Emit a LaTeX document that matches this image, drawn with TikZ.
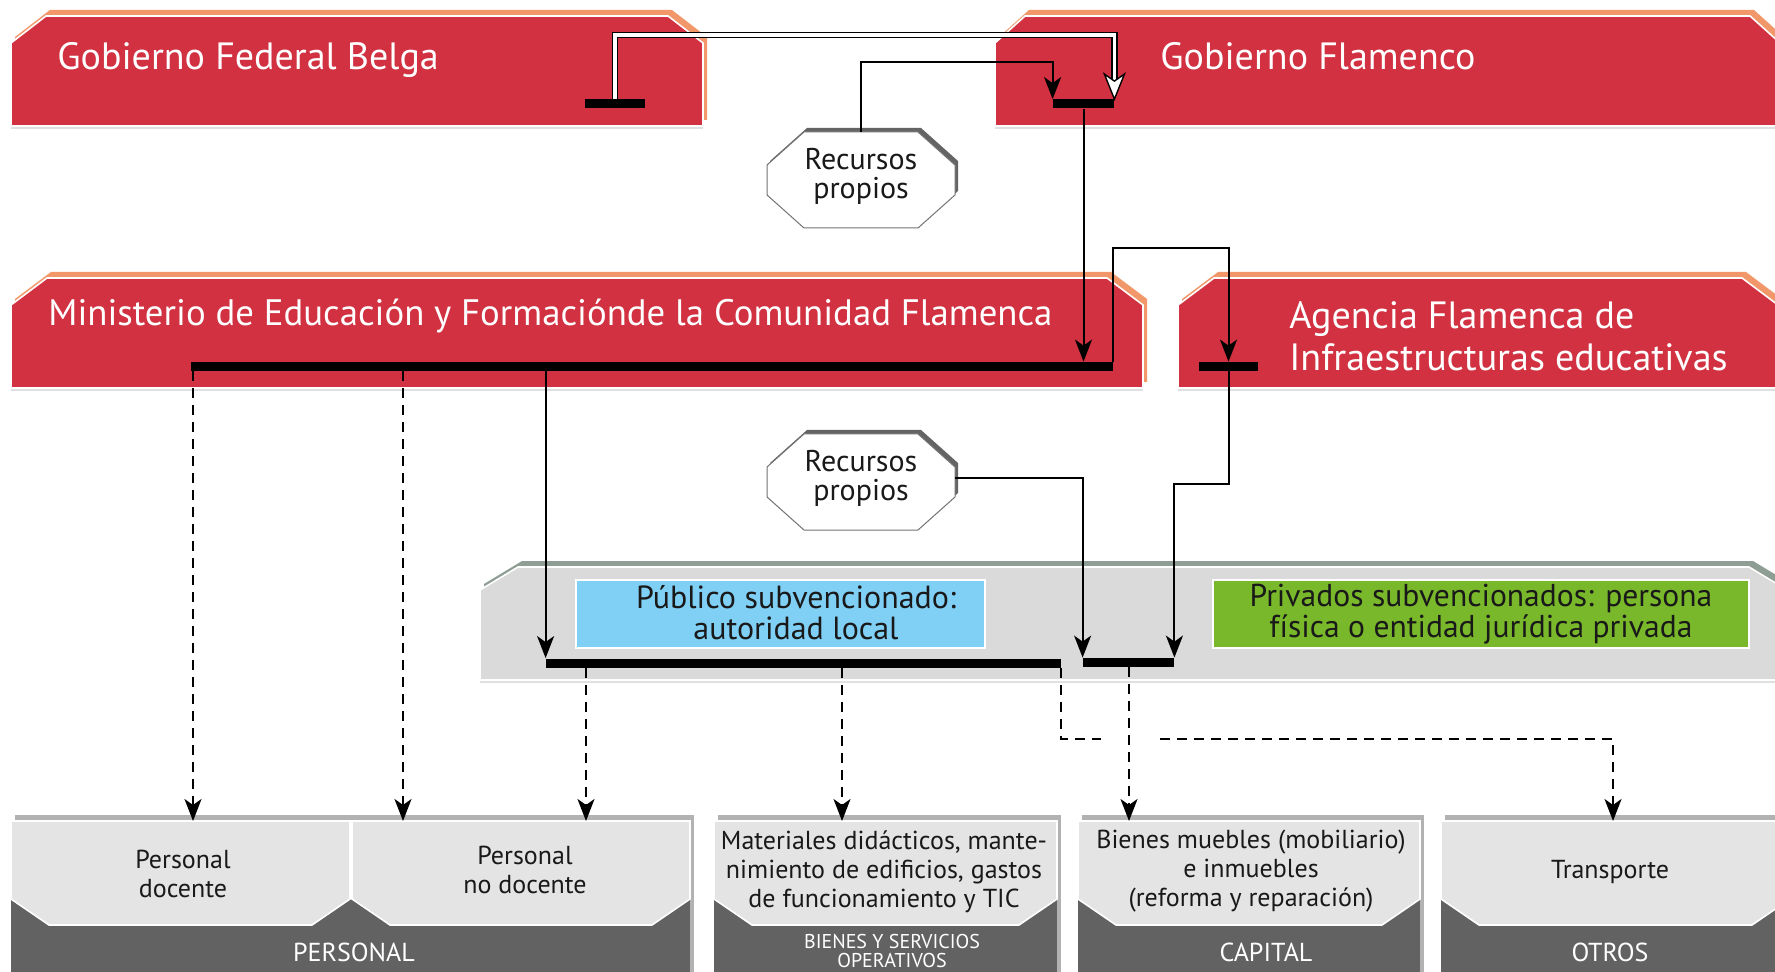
\documentclass[tikz,border=0pt]{standalone}
\usepackage{fontspec}
\setmainfont{PT Sans}
\usetikzlibrary{arrows.meta}
\definecolor{redb}{RGB}{209,49,64}
\definecolor{orangeb}{RGB}{241,151,106}
\definecolor{panelg}{RGB}{218,218,218}
\definecolor{panelb}{RGB}{143,158,148}
\definecolor{blueb}{RGB}{128,207,244}
\definecolor{greenb}{RGB}{121,184,42}
\definecolor{faceg}{RGB}{228,228,228}
\definecolor{baseg}{RGB}{98,98,98}
\definecolor{edgeg}{RGB}{178,178,178}
\definecolor{shadowg}{RGB}{100,100,100}
\definecolor{textk}{RGB}{25,25,25}

% x1 ytop x2 ybottom chamferw chamferh facecolor backcolor
\newcommand\chamfered[8]{%
  \fill[#8, shift={(4,-6)}] (#1,#4) -- (#1,{#2+#6}) -- ({#1+#5},#2) -- ({#3-#5},#2) -- (#3,{#2+#6}) -- (#3,#4) -- cycle;
  \filldraw[fill=#7, draw=white, line width=0.8pt] (#1,#4) -- (#1,{#2+#6}) -- ({#1+#5},#2) -- ({#3-#5},#2) -- (#3,{#2+#6}) -- (#3,#4) -- cycle;
  \draw[black!12, line width=1pt] (#1,{#4+2}) -- (#3,{#4+2});
}
\newcommand\octagonbox[2]{%
  \fill[shadowg, shift={(3,-4)}] ({#1-57},{#2-48}) -- ({#1+57},{#2-48}) -- ({#1+94},{#2-15}) -- ({#1+94},{#2+15}) -- ({#1+57},{#2+48}) -- ({#1-57},{#2+48}) -- ({#1-94},{#2+15}) -- ({#1-94},{#2-15}) -- cycle;
  \filldraw[fill=white, draw=black!55, line width=0.5pt] ({#1-57},{#2-48}) -- ({#1+57},{#2-48}) -- ({#1+94},{#2-15}) -- ({#1+94},{#2+15}) -- ({#1+57},{#2+48}) -- ({#1-57},{#2+48}) -- ({#1-94},{#2+15}) -- ({#1-94},{#2-15}) -- cycle;
}
\newcommand\basebox[2]{%
  \fill[edgeg] ({#1+4},815) rectangle ({#2+4},972);
  \fill[baseg] (#1,898) rectangle (#2,972);
}
\newcommand\facebox[2]{%
  \filldraw[fill=faceg, draw=white, line width=0.8pt] (#1,821) -- (#2,821) -- (#2,899) -- ({#2-38},925) -- ({#1+38},925) -- (#1,899) -- cycle;
}

\begin{document}
\begin{tikzpicture}[x=0.5pt,y=-0.5pt,
  bar/.style={fill=black, inner sep=0pt, minimum height=4.5pt},
  arr/.style={line width=1pt, -{Stealth[length=11pt,width=8.5pt,inset=3pt]}},
  dasharr/.style={arr, dash pattern=on 5pt off 3.5pt},
  title/.style={text=white, font=\fontsize{19}{21}\selectfont, inner sep=0pt, align=left},
  octtext/.style={font=\fontsize{15}{14.5}\selectfont, align=center, inner sep=0pt, minimum width=94pt, text=textk},
  midtext/.style={font=\fontsize{15.8}{15.5}\selectfont, align=center, text=textk, draw=white, line width=1pt, inner sep=0pt},
  facetext/.style={font=\fontsize{13}{14.5}\selectfont, align=center, text=textk, inner sep=0pt},
  basetext/.style={font=\fontsize{13}{13}\selectfont, align=center, text=white, inner sep=0pt},
  smallbase/.style={font=\fontsize{10}{9.5}\selectfont, align=center, text=white, inner sep=0pt}
]
\useasboundingbox (0,0) rectangle (1775,972);
\fill[white] (0,0) rectangle (1775,972);

% red boxes
\chamfered{11}{16}{703}{126}{35}{27}{redb}{orangeb}
\chamfered{995}{16}{1780}{126}{30}{27}{redb}{orangeb}
\chamfered{11}{278}{1143}{388}{36}{27}{redb}{orangeb}
\chamfered{1178}{278}{1778}{388}{36}{27}{redb}{orangeb}

% panel of schools
\chamfered{480}{567}{1787}{680}{38}{23}{panelg}{panelb}
\node[midtext, fill=blueb, minimum width=204.5pt, minimum height=34pt] (pub) at (780.5,614) {};
\node[font=\fontsize{16}{15.5}\selectfont, align=center, text=textk, inner sep=0pt] (pubt) at (796,613) {Público subvencionado:\\autoridad local};
\node[midtext, fill=greenb, minimum width=268pt, minimum height=34pt] (priv) at (1481,614) {Privados subvencionados: persona\\física o entidad jurídica privada};

% octagons
\octagonbox{861}{180}
\octagonbox{861}{482}
\node[octtext, minimum height=44pt] (rp1) at (861,176) {Recursos\\propios};
\node[octtext, minimum height=46pt] (rp2) at (861,478) {Recursos\\propios};

% bottom boxes
\basebox{11}{690}
\basebox{714}{1057}
\basebox{1078}{1420}
\basebox{1441}{1790}
\facebox{11}{350}
\facebox{352}{690}
\facebox{714}{1057}
\facebox{1078}{1420}
\facebox{1441}{1790}

% titles
\node[title, anchor=base west] (fed) at (57,70) {Gobierno Federal Belga};
\node[title, anchor=base west] (fla) at (1160,70) {Gobierno Flamenco};
\node[title, font=\fontsize{18.4}{21}\selectfont, anchor=base west] (min) at (48,326) {Ministerio de Educación y Formaciónde la Comunidad Flamenca};
\node[title, anchor=west] (agf) at (1289,336) {Agencia Flamenca de\\Infraestructuras educativas};

% face and base texts
\node[facetext] (pdoc) at (183,874) {Personal\\docente};
\node[facetext] (pnodoc) at (525,870) {Personal\\no docente};
\node[facetext] (mat) at (884,872) {Materiales didácticos, mante-\\nimiento de edificios, gastos\\de funcionamiento y TIC};
\node[facetext] (bien) at (1251,871) {Bienes muebles (mobiliario)\\e inmuebles\\(reforma y reparación)};
\node[facetext] (trans) at (1610,872) {Transporte};
\node[basetext] (lpers) at (354,952) {PERSONAL};
\node[smallbase] (lbys) at (892,951) {BIENES Y SERVICIOS\\OPERATIVOS};
\node[basetext] (lcap) at (1266,952) {CAPITAL};
\node[basetext] (lotr) at (1610,952) {OTROS};

% bars
\node[bar, minimum width=30pt] (bar1) at (615,104) {};
\node[bar, minimum width=30.5pt] (bar2) at (1083.5,104) {};
\node[bar, minimum width=461pt] (minbar) at (652,366.5) {};
\node[bar, minimum width=29.5pt] (agbar) at (1228.5,366.5) {};
\node[bar, minimum width=257.5pt] (pubbar) at (803.5,663) {};
\node[bar, minimum width=45.5pt] (privbar) at (1128.5,662.5) {};

% arrow targets on the bottom boxes
\coordinate (in1) at (193,821);
\coordinate (in2) at (403,821);
\coordinate (in3) at (586,821);
\coordinate (in4) at (842,821);
\coordinate (in5) at (1129,821);
\coordinate (in6) at (1613,821);

% white double arrow federal -> flemish
\draw[line width=3.4pt, shorten >=9pt] (bar1.north) -- (bar1.north |- 0,35) -| (bar2.north east);
\draw[line width=1.8pt, white, shorten >=9pt] (bar1.north) -- (bar1.north |- 0,35) -| (bar2.north east);
\filldraw[fill=white, draw=black, line width=0.7pt] (bar2.north east) -- ++(-10,-25) -- ++(10,7) -- ++(10,-7) -- cycle;

% solid connectors
\draw[arr] (rp1.north) -- (rp1.north |- 0,62) -| (bar2.north west);
\draw[arr] (bar2.south) -- (bar2.south |- minbar.north);
\draw[arr] (minbar.north east) -- (minbar.north east |- 0,248) -| (agbar.north);
\draw[arr] (agbar.south) -- (agbar.south |- 0,484) -| (privbar.north east);
\draw[arr] (rp2.east) -| (privbar.north west);
\draw[arr] (pubbar.north west |- minbar.south) -- (pubbar.north west);

% dashed connectors
\draw[dasharr] (in1 |- minbar.south) -- (in1);
\draw[dasharr] (in2 |- minbar.south) -- (in2);
\draw[dasharr] (in3 |- pubbar.south) -- (in3);
\draw[dasharr] (in4 |- pubbar.south) -- (in4);
\draw[dasharr] (pubbar.south east) -- (pubbar.south east |- 0,739) -| (in6);
\draw[white, line width=4pt] (1101,739) -- (1157,739);
\draw[dasharr] (in5 |- privbar.south) -- (in5);
\end{tikzpicture}
\end{document}
